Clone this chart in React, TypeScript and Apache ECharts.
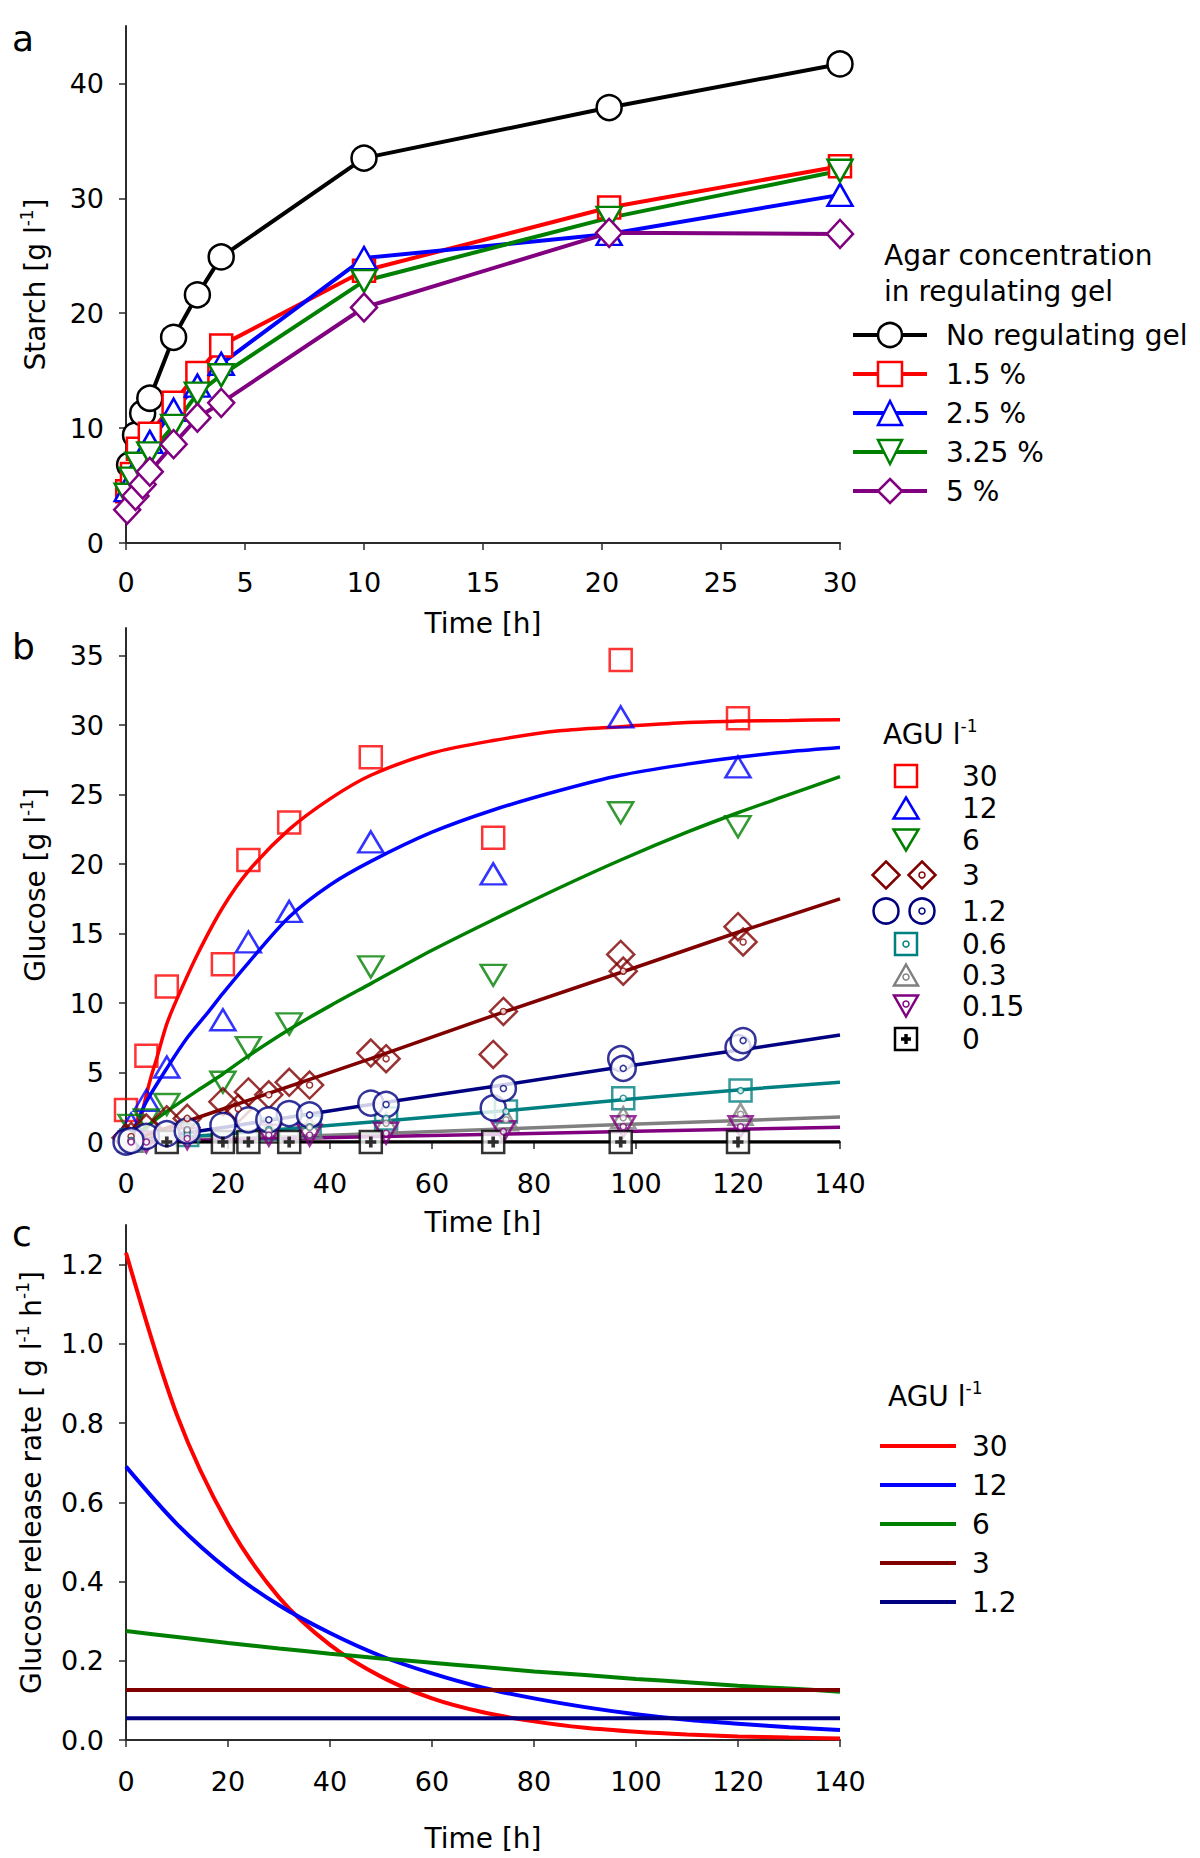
import React, { useEffect, useRef } from 'react';
import * as echarts from 'echarts';

const FONT = '"DejaVu Sans", "Liberation Sans", sans-serif';

const RED = '#ff0000';
const BLUE = '#0000ff';
const GREEN = '#008000';
const BROWN = '#800000';
const NAVY = '#000080';
const TEAL = '#008080';
const GREY = '#808080';
const PURPLE = '#800080';
const BLACK = '#000000';

// ---------------- Panel a: starch ----------------
const aTimesNoGel = [0.15, 0.4, 0.7, 1, 2, 3, 4, 10, 20.3, 30];
const aStarchNoGel = [6.8, 9.4, 11.3, 12.6, 17.9, 21.6, 24.9, 33.5, 37.9, 41.7];
const aTimesGel = [0.05, 0.25, 0.5, 1, 2, 3, 4, 10, 20.3, 30];
const aStarch15 = [4.5, 6.0, 8.2, 9.5, 12.2, 14.8, 17.2, 23.7, 29.2, 32.8];
const aStarch25 = [4.6, 5.6, 6.8, 8.8, 11.6, 13.7, 15.6, 24.8, 26.9, 30.3];
const aStarch325 = [4.2, 5.6, 6.9, 7.8, 10.2, 13.0, 14.6, 22.8, 28.3, 32.4];
const aTimesGel5 = [0.05, 0.4, 0.7, 1, 2, 3, 4, 10, 20.3, 30];
const aStarch5 = [2.9, 4.1, 5.1, 6.2, 8.6, 10.9, 12.2, 20.5, 27.0, 26.9];
const aXTicks = [0, 5, 10, 15, 20, 25, 30];
const aYTicks = [0, 10, 20, 30, 40];

// ---------------- Panel b: glucose ----------------
const bT30 = [0, 4, 8, 19, 24, 32, 48, 72, 97, 120];
const bG30 = [2.3, 6.2, 11.2, 12.8, 20.3, 23.0, 27.7, 21.9, 34.7, 30.5];
const bT12 = [1, 4, 8, 19, 24, 32, 48, 72, 97, 120];
const bG12 = [1.3, 3.0, 5.4, 8.8, 14.4, 16.6, 21.6, 19.3, 30.6, 27.0];
const bT6 = [1, 4, 8, 19, 24, 32, 48, 72, 97, 120];
const bG6 = [1.2, 1.6, 2.7, 4.3, 6.8, 8.5, 12.6, 12.0, 23.7, 22.7];
const bT3a = [0, 4, 8, 19, 24, 32, 48, 72, 97, 120];
const bG3a = [0.3, 1.0, 1.6, 2.9, 3.6, 4.3, 6.4, 6.3, 13.5, 15.5];
const bT3b = [1, 12, 22, 28, 36, 51, 74, 97.5, 121];
const bG3b = [0.4, 1.7, 2.4, 3.4, 4.1, 6.0, 9.4, 12.3, 14.4];
const bT12a = [0, 4, 8, 19, 24, 32, 48, 72, 97, 120];
const bG12a = [0, 0.4, 0.6, 1.2, 1.6, 2.05, 2.8, 2.45, 6.0, 6.8];
const bT12b = [1, 12, 28, 36, 51, 74, 97.5, 121];
const bG12b = [0.1, 0.8, 1.6, 1.95, 2.7, 3.85, 5.3, 7.3];
const bT06 = [1, 12, 28, 36, 51, 74.5, 97.5, 120.5];
const bG06 = [0.1, 0.5, 0.9, 1.1, 1.7, 2.2, 3.15, 3.7];
const bT03 = [1, 12, 28, 36, 51, 74.5, 97.5, 120.5];
const bG03 = [0.05, 0.9, 0.8, 1.05, 1.35, 1.6, 1.75, 2.0];
const bT015 = [1, 4, 12, 28, 36, 51, 74, 97.5, 120.5];
const bG015 = [0, 0, 0.25, 0.5, 0.5, 0.63, 0.75, 1.1, 1.1];
const bT0 = [8, 19, 24, 32, 48, 72, 97, 120];
const bG0 = [0, 0, 0, 0, 0, 0, 0, 0];

// fitted curves
const fT30 = [2, 3, 4, 5, 6, 8, 10, 14, 19, 24, 32, 40, 48, 60, 72, 85, 97, 110, 120, 130, 140];
const fG30 = [0, 1.8, 3.4, 4.8, 6.0, 8.5, 10.3, 13.5, 16.9, 19.5, 22.5, 24.7, 26.4, 28.0, 28.9, 29.6, 29.9, 30.2, 30.3, 30.35, 30.4];
const fT12 = [1, 2, 4, 8, 12, 16, 19, 24, 32, 40, 48, 60, 72, 85, 97, 110, 120, 130, 140];
const fG12 = [0.4, 1.3, 2.9, 5.3, 7.5, 9.3, 10.7, 12.9, 16.2, 18.5, 20.2, 22.3, 23.9, 25.3, 26.4, 27.2, 27.7, 28.1, 28.4];
const fT6 = [0, 4, 8, 14, 19, 24, 32, 40, 48, 60, 72, 85, 97, 110, 120, 130, 140];
const fG6 = [0, 1.1, 2.2, 3.7, 4.9, 6.2, 8.1, 9.8, 11.4, 13.8, 16.0, 18.3, 20.3, 22.3, 23.7, 25.0, 26.3];
const fT3 = [0, 20, 48, 72, 97, 120, 140];
const fG3 = [0, 2.5, 6.0, 9.1, 12.2, 15.1, 17.5];
const fT12l = [0, 20, 48, 72, 97, 120, 140];
const fG12l = [0, 1.1, 2.7, 4.0, 5.4, 6.6, 7.7];
const fT06 = [0, 50, 76, 99, 120, 140];
const fG06 = [0, 1.5, 2.3, 3.1, 3.75, 4.3];
const fT03 = [0, 50, 75, 93, 140];
const fG03 = [0, 0.62, 0.95, 1.2, 1.8];
const fT015 = [0, 50, 75, 100, 140];
const fG015 = [0, 0.4, 0.58, 0.78, 1.07];
const fT0 = [0, 140];
const fG0 = [0, 0];
const bXTicks = [0, 20, 40, 60, 80, 100, 120, 140];
const bYTicks = [0, 5, 10, 15, 20, 25, 30, 35];

// ---------------- Panel c: glucose release rate ----------------
const cT = [0, 10, 20, 30, 40, 50, 60, 70, 80, 90, 100, 110, 120, 130, 140];
const cR30 = [1.23, 0.82, 0.545, 0.36, 0.24, 0.16, 0.105, 0.07, 0.047, 0.031, 0.021, 0.014, 0.009, 0.006, 0.004];
const cR12 = [0.69, 0.545, 0.43, 0.34, 0.27, 0.212, 0.168, 0.132, 0.105, 0.083, 0.065, 0.051, 0.041, 0.032, 0.025];
const cR6 = [0.275, 0.26, 0.245, 0.231, 0.218, 0.206, 0.195, 0.184, 0.173, 0.164, 0.154, 0.146, 0.137, 0.13, 0.122];
const cTconst = [0, 140];
const cR3 = [0.126, 0.126];
const cR12l = [0.055, 0.055];
const cYTicks = [0, 0.2, 0.4, 0.6, 0.8, 1.0, 1.2];

const pairs = (xs: number[], ys: number[]) => xs.map((x, i) => [x, ys[i]]);

const axisBase = (extra: any) => ({
  type: 'value',
  axisLine: { show: true, onZero: false, lineStyle: { color: '#2b2b2b', width: 2 } },
  splitLine: { show: false },
  ...extra,
});

const tickStyle = (custom: number[]) => ({
  show: true, inside: false, length: 7, customValues: custom, lineStyle: { color: '#2b2b2b', width: 1.5 },
});

const labelStyle = (margin: number, custom: number[], fmt?: (v: number) => string) => ({
  color: '#000',
  fontSize: 27,
  fontFamily: FONT,
  margin,
  customValues: custom,
  ...(fmt ? { formatter: fmt } : {}),
});

const yNameStyle = {
  color: '#000',
  fontSize: 28,
  fontFamily: FONT,
  rich: {
    m: { fontSize: 28, fontFamily: FONT, color: '#000', lineHeight: 34 },
    s: { fontSize: 17, fontFamily: FONT, color: '#000', lineHeight: 20, verticalAlign: 'top' },
  },
};
const xNameStyle = { color: '#000', fontSize: 28, fontFamily: FONT };

function App() {
  const ref = useRef<HTMLDivElement>(null);
  useEffect(() => {
    if (!ref.current) return;
    const chart = echarts.init(ref.current, undefined, { renderer: 'svg' });

    // ---- panel a series
    const aGroups = [
      { name: 'No regulating gel', color: BLACK, symbol: 'circle', size: 25, rot: 0, xs: aTimesNoGel, ys: aStarchNoGel },
      { name: '1.5 %', color: RED, symbol: 'rect', size: 22, rot: 0, xs: aTimesGel, ys: aStarch15 },
      { name: '2.5 %', color: BLUE, symbol: 'triangle', size: [25, 22], rot: 0, xs: aTimesGel, ys: aStarch25 },
      { name: '3.25 %', color: GREEN, symbol: 'triangle', size: [25, 22], rot: 180, xs: aTimesGel, ys: aStarch325 },
      { name: '5 %', color: PURPLE, symbol: 'diamond', size: [26, 28], rot: 0, xs: aTimesGel5, ys: aStarch5 },
    ];
    const aSeries = aGroups.map((g) => ({
      type: 'line',
      name: g.name,
      xAxisIndex: 0,
      yAxisIndex: 0,
      data: pairs(g.xs, g.ys),
      symbol: g.symbol,
      symbolSize: g.size,
      symbolRotate: g.rot,
      showAllSymbol: true,
      lineStyle: { color: g.color, width: 4 },
      itemStyle: { color: '#ffffff', borderColor: g.color, borderWidth: 2.5 },
      emphasis: { disabled: true },
      silent: true,
    }));

    // ---- panel b
    const curve = (name: string, xs: number[], ys: number[], color: string, smooth: boolean) => ({
      type: 'line',
      name,
      xAxisIndex: 1,
      yAxisIndex: 1,
      data: pairs(xs, ys),
      symbol: 'none',
      showSymbol: false,
      smooth: smooth ? 0.3 : false,
      lineStyle: { color, width: 3.5 },
      itemStyle: { color },
      emphasis: { disabled: true },
      silent: true,
      z: 2,
    });
    const marks = (name: string, xs: number[], ys: number[], symbol: string, size: any, color: string, rot = 0, fill = 'rgba(0,0,0,0)', bw = 2.5, z = 3) => ({
      type: 'scatter',
      name,
      xAxisIndex: 1,
      yAxisIndex: 1,
      data: pairs(xs, ys),
      symbol,
      symbolSize: size,
      symbolRotate: rot,
      itemStyle: { color: fill, borderColor: color, borderWidth: bw },
      emphasis: { disabled: true },
      silent: true,
      z,
    });
    const dots = (name: string, xs: number[], ys: number[], color: string) =>
      marks(name, xs, ys, 'circle', 6, color, 0, '#ffffff', 1.5, 5);

    const PLUS = 'path://M3,0H6V3H9V6H6V9H3V6H0V3H3Z';

    const bSeries = [
      curve('fit 30', fT30, fG30, RED, true),
      curve('fit 12', fT12, fG12, BLUE, true),
      curve('fit 6', fT6, fG6, GREEN, true),
      curve('fit 3', fT3, fG3, BROWN, false),
      curve('fit 1.2', fT12l, fG12l, NAVY, false),
      curve('fit 0.6', fT06, fG06, TEAL, false),
      curve('fit 0.3', fT03, fG03, GREY, false),
      curve('fit 0.15', fT015, fG015, PURPLE, false),
      curve('fit 0', fT0, fG0, BLACK, false),
      marks('30', bT30, bG30, 'rect', 22, RED),
      marks('12', bT12, bG12, 'triangle', [25, 21], BLUE),
      marks('6', bT6, bG6, 'triangle', [25, 21], GREEN, 180),
      marks('3', bT3a, bG3a, 'diamond', 27, BROWN),
      marks('3 b', bT3b, bG3b, 'diamond', 27, BROWN),
      marks('0.6', bT06, bG06, 'rect', 22, TEAL),
      marks('0.3', bT03, bG03, 'triangle', [24, 21], GREY),
      marks('0.15', bT015, bG015, 'triangle', [24, 21], PURPLE, 180),
      marks('0', bT0, bG0, 'rect', 22, BLACK, 0, '#ffffff', 2.5, 3),
      marks('1.2', bT12a, bG12a, 'circle', 25, NAVY, 0, '#ffffff', 2.5, 4),
      marks('1.2 b', bT12b, bG12b, 'circle', 25, NAVY, 0, '#ffffff', 2.5, 4),
      dots('3 b dot', bT3b, bG3b, BROWN),
      dots('1.2 b dot', bT12b, bG12b, NAVY),
      dots('0.6 dot', bT06, bG06, TEAL),
      dots('0.3 dot', bT03, bG03, GREY),
      dots('0.15 dot', bT015, bG015, PURPLE),
      {
        type: 'scatter',
        name: '0 plus',
        xAxisIndex: 1,
        yAxisIndex: 1,
        data: pairs(bT0, bG0),
        symbol: PLUS,
        symbolSize: 11,
        itemStyle: { color: BLACK },
        emphasis: { disabled: true },
        silent: true,
        z: 5,
      },
    ];

    // ---- panel c
    const cLine = (name: string, xs: number[], ys: number[], color: string, smooth: boolean) => ({
      type: 'line',
      name,
      xAxisIndex: 2,
      yAxisIndex: 2,
      data: pairs(xs, ys),
      symbol: 'none',
      showSymbol: false,
      smooth: smooth ? 0.3 : false,
      lineStyle: { color, width: 4 },
      itemStyle: { color },
      color,
      emphasis: { disabled: true },
      silent: true,
    });
    const cSeries = [
      cLine('c30', cT, cR30, RED, true),
      cLine('c12', cT, cR12, BLUE, true),
      cLine('c6', cT, cR6, GREEN, true),
      cLine('c3', cTconst, cR3, BROWN, false),
      cLine('c1.2', cTconst, cR12l, NAVY, false),
    ];

    // ---- graphic legend for panel b
    const LX = 906, LX1 = 886, LX2 = 922, LT = 962;
    const rows = [776, 808, 840, 875, 911, 944, 975, 1006, 1039];
    const rowLabels = ['30', '12', '6', '3', '1.2', '0.6', '0.3', '0.15', '0'];
    const sq = (cx: number, cy: number, s: number, color: string, fill = 'none') => ({
      type: 'rect', shape: { x: cx - s / 2, y: cy - s / 2, width: s, height: s },
      style: { fill, stroke: color, lineWidth: 2.5 }, silent: true,
    });
    const tri = (cx: number, cy: number, w: number, h: number, color: string, down: boolean) => ({
      type: 'polygon',
      shape: {
        points: down
          ? [[cx - w / 2, cy - h / 2], [cx + w / 2, cy - h / 2], [cx, cy + h / 2]]
          : [[cx, cy - h / 2], [cx + w / 2, cy + h / 2], [cx - w / 2, cy + h / 2]],
      },
      style: { fill: 'none', stroke: color, lineWidth: 2.5 }, silent: true,
    });
    const dia = (cx: number, cy: number, s: number, color: string) => ({
      type: 'polygon',
      shape: { points: [[cx, cy - s / 2], [cx + s / 2, cy], [cx, cy + s / 2], [cx - s / 2, cy]] },
      style: { fill: 'none', stroke: color, lineWidth: 2.5 }, silent: true,
    });
    const circ = (cx: number, cy: number, r: number, color: string, lw = 2.5) => ({
      type: 'circle', shape: { cx, cy, r }, style: { fill: '#ffffff', stroke: color, lineWidth: lw }, silent: true,
    });
    const plus = (cx: number, cy: number) => ({
      type: 'polygon',
      shape: {
        points: [[cx - 1.7, cy - 5], [cx + 1.7, cy - 5], [cx + 1.7, cy - 1.7], [cx + 5, cy - 1.7], [cx + 5, cy + 1.7],
          [cx + 1.7, cy + 1.7], [cx + 1.7, cy + 5], [cx - 1.7, cy + 5], [cx - 1.7, cy + 1.7], [cx - 5, cy + 1.7],
          [cx - 5, cy - 1.7], [cx - 1.7, cy - 1.7]],
      },
      style: { fill: BLACK, stroke: 'none' }, silent: true,
    });
    const txt = (x: number, y: number, text: string, size = 28, extra: any = {}) => ({
      type: 'text', x, y, silent: true,
      style: { text, fontSize: size, fontFamily: FONT, fill: '#000', textAlign: 'left', textVerticalAlign: 'middle', ...extra },
    });
    const supTitle = (x: number, y: number) => ({
      type: 'text', x, y, silent: true,
      style: {
        text: '{m|AGU l}{s|-1}',
        fontSize: 28, fontFamily: FONT, fill: '#000', textAlign: 'left', textVerticalAlign: 'middle',
        rich: {
          m: { fontSize: 28, fontFamily: FONT, fill: '#000', lineHeight: 34 },
          s: { fontSize: 17, fontFamily: FONT, fill: '#000', lineHeight: 20, verticalAlign: 'top' },
        },
      },
    });

    const legendB: any[] = [
      supTitle(883, 734),
      sq(LX, rows[0], 22, RED),
      tri(LX, rows[1], 25, 21, BLUE, false),
      tri(LX, rows[2], 25, 21, GREEN, true),
      dia(LX1, rows[3], 27, BROWN),
      dia(LX2, rows[3], 27, BROWN),
      circ(LX2, rows[3], 3, BROWN, 1.5),
      circ(LX1, rows[4], 12.5, NAVY),
      circ(LX2, rows[4], 12.5, NAVY),
      circ(LX2, rows[4], 3, NAVY, 1.5),
      sq(LX, rows[5], 22, TEAL),
      circ(LX, rows[5], 3, TEAL, 1.5),
      tri(LX, rows[6], 24, 21, GREY, false),
      circ(LX, rows[6] + 2, 3, GREY, 1.5),
      tri(LX, rows[7], 24, 21, PURPLE, true),
      circ(LX, rows[7] - 2, 3, PURPLE, 1.5),
      sq(LX, rows[8], 22, BLACK, '#ffffff'),
      plus(LX, rows[8]),
      ...rowLabels.map((l, i) => txt(LT, rows[i], l)),
    ];

    const graphicEls: any[] = [
      txt(12, 38, 'a', 36),
      txt(12, 646, 'b', 36),
      txt(12, 1233, 'c', 36),
      txt(884, 255, 'Agar concentration'),
      txt(884, 291, 'in regulating gel'),
      ...legendB,
      supTitle(888, 1396),
    ];

    const option: any = {
      animation: false,
      backgroundColor: '#ffffff',
      textStyle: { fontFamily: FONT },
      grid: [
        { left: 126, top: 26, width: 714, height: 517, containLabel: false },
        { left: 126, top: 628, width: 714, height: 514, containLabel: false },
        { left: 126, top: 1225, width: 714, height: 515, containLabel: false },
      ],
      xAxis: [
        axisBase({
          gridIndex: 0, min: 0, max: 30, interval: 5,
          name: 'Time [h]', nameLocation: 'middle', nameGap: 66, nameTextStyle: xNameStyle,
          axisLabel: labelStyle(26, aXTicks),
          axisTick: tickStyle(aXTicks),
        }),
        axisBase({
          gridIndex: 1, min: 0, max: 140, interval: 20,
          name: 'Time [h]', nameLocation: 'middle', nameGap: 66, nameTextStyle: xNameStyle,
          axisLabel: labelStyle(28, bXTicks),
          axisTick: tickStyle(bXTicks),
        }),
        axisBase({
          gridIndex: 2, min: 0, max: 140, interval: 20,
          name: 'Time [h]', nameLocation: 'middle', nameGap: 84, nameTextStyle: xNameStyle,
          axisLabel: labelStyle(28, bXTicks),
          axisTick: tickStyle(bXTicks),
        }),
      ],
      yAxis: [
        axisBase({
          gridIndex: 0, min: 0, max: 45, interval: 10,
          name: '{m|Starch [g l}{s|-1}{m|]}', nameLocation: 'middle', nameGap: 74, nameRotate: 90, nameTextStyle: yNameStyle,
          axisLabel: labelStyle(22, aYTicks),
          axisTick: tickStyle(aYTicks),
        }),
        axisBase({
          gridIndex: 1, min: 0, max: 37, interval: 5,
          name: '{m|Glucose [g l}{s|-1}{m|]}', nameLocation: 'middle', nameGap: 74, nameRotate: 90, nameTextStyle: yNameStyle,
          axisLabel: labelStyle(22, bYTicks),
          axisTick: tickStyle(bYTicks),
        }),
        axisBase({
          gridIndex: 2, min: 0, max: 1.3, interval: 0.2,
          name: '{m|Glucose release rate [ g l}{s|-1}{m| h}{s|-1}{m|]}', nameLocation: 'middle', nameGap: 78, nameRotate: 90, nameTextStyle: yNameStyle,
          axisLabel: labelStyle(22, cYTicks, (v: number) => v.toFixed(1)),
          axisTick: tickStyle(cYTicks),
        }),
      ],
      legend: [
        {
          data: aGroups.map((g) => g.name),
          orient: 'vertical', left: 851, top: 320, padding: 0,
          itemWidth: 74, itemHeight: 30, itemGap: 9,
          selectedMode: false,
          textStyle: { fontSize: 28, fontFamily: FONT, color: '#000', lineHeight: 30, padding: [0, 0, 0, 14] },
          lineStyle: { width: 4 },
          itemStyle: { borderWidth: 2.5 },
        },
        {
          data: cSeries.map((s) => s.name),
          orient: 'vertical', left: 880, top: 1431, padding: 0,
          icon: 'rect', itemWidth: 76, itemHeight: 4, itemGap: 9,
          selectedMode: false,
          formatter: (n: string) => n.slice(1),
          textStyle: { fontSize: 28, fontFamily: FONT, color: '#000', lineHeight: 30, padding: [0, 0, 0, 11] },
          itemStyle: { borderWidth: 0 },
        },
      ],
      series: [...aSeries, ...bSeries, ...cSeries],
      graphic: { elements: graphicEls },
    };
    chart.setOption(option);
    return () => chart.dispose();
  }, []);
  return <div ref={ref} style={{ position: 'absolute', left: 0, top: 0, width: 1200, height: 1858, background: '#fff' }} />;
}

export default App;
